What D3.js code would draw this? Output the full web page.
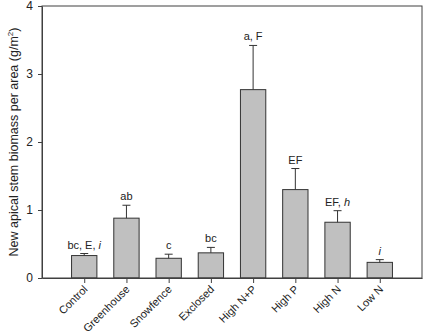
<!DOCTYPE html>
<html>
<head>
<meta charset="utf-8">
<script src="https://cdn.jsdelivr.net/npm/d3@7"></script>
<style>
  body { margin: 0; background: #fff; }
  svg { display: block; font-family: Arial, "Liberation Sans", sans-serif; }
</style>
</head>
<body>
<svg id="chart" width="425" height="333"></svg>
<script>
// data
var categories = ['Control', 'Greenhouse', 'Snowfence', 'Exclosed', 'High N+P', 'High P', 'High N', 'Low N'];
var means = [0.33, 0.88, 0.29, 0.37, 2.77, 1.30, 0.82, 0.23];
var errors = [0.03, 0.19, 0.06, 0.08, 0.65, 0.31, 0.17, 0.04];
// letter groups, [text, italic]
var letters = [
  [['bc, E, ', false], ['i', true]],
  [['ab', false]],
  [['c', false]],
  [['bc', false]],
  [['a, F', false]],
  [['EF', false]],
  [['EF, ', false], ['h', true]],
  [['i', true]]
];
var yTicks = [0, 1, 2, 3, 4];

var margin = { left: 42, right: 3, top: 6, bottom: 55 };
var width = 425, height = 333;
var axisColor = '#404040';

var svg = d3.select('#chart');

var x = d3.scalePoint()
  .domain(categories)
  .range([margin.left, width - margin.right])
  .padding(1);

var y = d3.scaleLinear()
  .domain([0, 4])
  .range([height - margin.bottom, margin.top]);

var barW = x.step() * 0.6;

// bars
svg.selectAll('rect.bar')
  .data(categories)
  .enter().append('rect')
  .attr('class', 'bar')
  .attr('x', function(d) { return x(d) - barW / 2; })
  .attr('y', function(d, i) { return y(means[i]); })
  .attr('width', barW)
  .attr('height', function(d, i) { return y(0) - y(means[i]); })
  .attr('fill', '#c0c0c0')
  .attr('stroke', '#333')
  .attr('stroke-width', 1);

// error bars (upper only)
var eb = svg.selectAll('g.err')
  .data(categories)
  .enter().append('g')
  .attr('class', 'err')
  .attr('stroke', '#333')
  .attr('stroke-width', 1);

eb.append('line')
  .attr('x1', function(d) { return x(d); })
  .attr('x2', function(d) { return x(d); })
  .attr('y1', function(d, i) { return y(means[i]); })
  .attr('y2', function(d, i) { return y(means[i] + errors[i]); });

eb.append('line')
  .attr('x1', function(d) { return x(d) - 4; })
  .attr('x2', function(d) { return x(d) + 4; })
  .attr('y1', function(d, i) { return y(means[i] + errors[i]); })
  .attr('y2', function(d, i) { return y(means[i] + errors[i]); });

// significance letters
var lab = svg.selectAll('text.letters')
  .data(categories)
  .enter().append('text')
  .attr('class', 'letters')
  .attr('x', function(d) { return x(d); })
  .attr('y', function(d, i) { return y(means[i] + errors[i]) - 5; })
  .attr('text-anchor', 'middle')
  .attr('font-size', '11px')
  .attr('fill', '#222');

lab.each(function(d, i) {
  var t = d3.select(this);
  letters[i].forEach(function(seg) {
    t.append('tspan')
      .attr('font-style', seg[1] ? 'italic' : 'normal')
      .text(seg[0]);
  });
});

// axes
var yAxis = svg.append('g')
  .attr('transform', 'translate(' + margin.left + ',0)')
  .call(d3.axisLeft(y).tickValues(yTicks).tickFormat(d3.format('d')).tickSize(4).tickSizeOuter(0).tickPadding(5));

var xAxis = svg.append('g')
  .attr('transform', 'translate(0,' + (height - margin.bottom) + ')')
  .call(d3.axisBottom(x).tickSize(5).tickSizeOuter(0).tickFormat(''));

[yAxis, xAxis].forEach(function(a) {
  a.select('.domain').attr('stroke', axisColor);
  a.selectAll('.tick line').attr('stroke', axisColor);
  a.selectAll('.tick text').attr('fill', '#222').attr('font-size', '12px').attr('font-family', null);
});

// frame
svg.append('rect')
  .attr('x', margin.left)
  .attr('y', margin.top)
  .attr('width', width - margin.right - margin.left)
  .attr('height', height - margin.bottom - margin.top)
  .attr('fill', 'none')
  .attr('stroke', axisColor)
  .attr('stroke-width', 1);

// rotated category labels
svg.selectAll('text.cat')
  .data(categories)
  .enter().append('text')
  .attr('class', 'cat')
  .attr('transform', function(d) { return 'translate(' + (x(d) + 4) + ',' + (height - margin.bottom + 12) + ') rotate(-45)'; })
  .attr('text-anchor', 'end')
  .attr('font-size', '11px')
  .attr('fill', '#222')
  .text(function(d) { return d; });

// y title
var title = svg.append('text')
  .attr('transform', 'translate(18,' + ((margin.top + height - margin.bottom) / 2) + ') rotate(-90)')
  .attr('text-anchor', 'middle')
  .attr('font-size', '12.5px')
  .attr('fill', '#222');
title.append('tspan').text('New apical stem biomass per area (g/m');
title.append('tspan').attr('font-size', '8px').attr('dy', -5).text('2');
title.append('tspan').attr('dy', 5).text(')');
</script>
</body>
</html>
